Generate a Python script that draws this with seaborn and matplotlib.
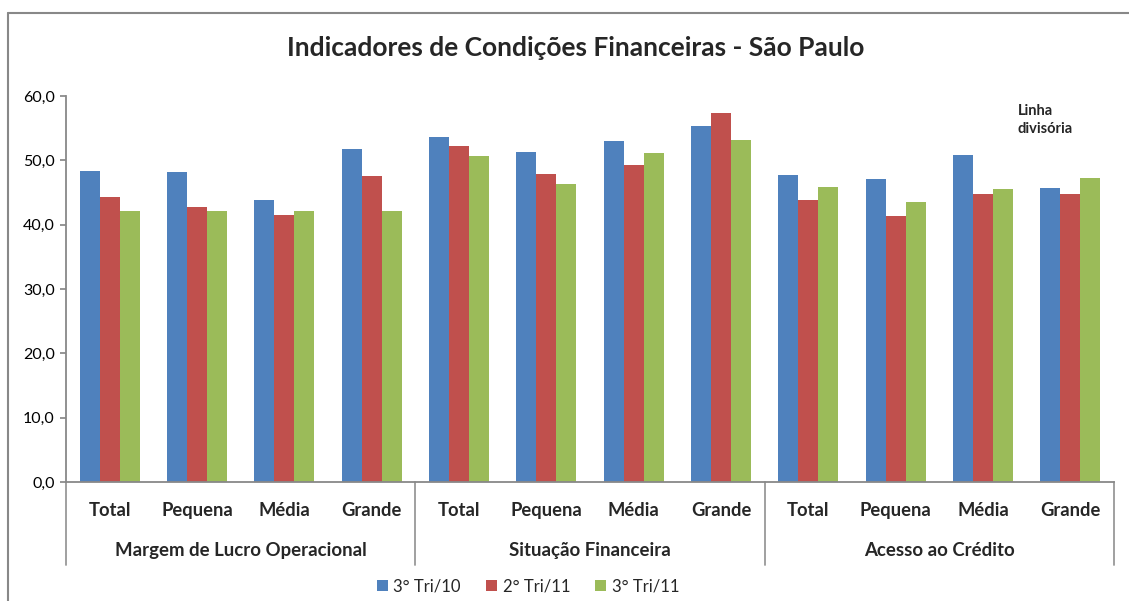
import matplotlib
matplotlib.use("Agg")
import matplotlib.pyplot as plt
import seaborn as sns
import pandas as pd
from matplotlib.lines import Line2D
from matplotlib.patches import Patch

groups = ["Margem de Lucro Operacional", "Situação Financeira", "Acesso ao Crédito"]
sizes = ["Total", "Pequena", "Média", "Grande"]
series = ["3° Tri/10", "2° Tri/11", "3° Tri/11"]
tri10 = [48.4, 48.2, 43.8, 51.8, 53.6, 51.3, 53.0, 55.4, 47.7, 47.1, 50.9, 45.7]
tri11_2 = [44.3, 42.7, 41.5, 47.5, 52.2, 47.9, 49.3, 57.3, 43.8, 41.3, 44.7, 44.7]
tri11_3 = [42.2, 42.2, 42.2, 42.2, 50.6, 46.3, 51.1, 53.2, 45.9, 43.6, 45.6, 47.2]
colors = ["#4F81BD", "#C0504D", "#9BBB59"]

cats = [f"{g}|{s}" for g in groups for s in sizes]
rows = []
for name, vals in zip(series, [tri10, tri11_2, tri11_3]):
    for c, v in zip(cats, vals):
        rows.append({"cat": c, "serie": name, "valor": v})
df = pd.DataFrame(rows)

sns.set_theme(style="white")
plt.rcParams["font.family"] = ["Lato", "DejaVu Sans"]

W, H = 1129, 601
fig = plt.figure(figsize=(W / 100, H / 100), dpi=100)
x0, x1, y0, y1 = 66, 1114, 482, 96
ax = fig.add_axes([x0 / W, 1 - y0 / H, (x1 - x0) / W, (y0 - y1) / H])

sns.barplot(data=df, x="cat", y="valor", hue="serie", order=cats, hue_order=series,
            palette=colors, width=0.69, ax=ax, legend=False, saturation=1,
            edgecolor="none")

ax.set_ylim(0, 60)
ax.set_xlim(-0.5, 11.5)
ax.set_yticks(range(0, 61, 10))
ax.set_yticklabels([f"{v},0" for v in range(0, 61, 10)], fontsize=11.5, color="black")
ax.tick_params(axis="y", length=4, color="#888888", direction="out", left=True, pad=4)
ax.set_xticks([])
ax.set_xlabel("")
ax.set_ylabel("")
for side in ["top", "right"]:
    ax.spines[side].set_visible(False)
for side in ["left", "bottom"]:
    ax.spines[side].set_color("#888888")
    ax.spines[side].set_linewidth(1.3)

# category labels
for i, c in enumerate(cats):
    ax.text(i, -0.073, c.split("|")[1], transform=ax.get_xaxis_transform(),
            ha="center", va="center", fontsize=13.2, fontweight="bold")
for gi, g in enumerate(groups):
    ax.text(gi * 4 + 1.5, -0.178, g, transform=ax.get_xaxis_transform(),
            ha="center", va="center", fontsize=13.4, fontweight="bold")
# separators
for xb in [-0.5, 3.5, 7.5, 11.5]:
    ax.add_line(Line2D([xb, xb], [0, -0.215], transform=ax.get_xaxis_transform(),
                       color="#999999", lw=1.3, clip_on=False))

fig.text(576 / W, 1 - 48 / H, "Indicadores de Condições Financeiras - São Paulo",
         ha="center", va="center", fontsize=19, fontweight="bold")
fig.text(1018 / W, 1 - 120 / H, "Linha\ndivisória", ha="left", va="center",
         fontsize=10.5, fontweight="bold", linespacing=1.45)

handles = [Patch(facecolor=c, edgecolor="none") for c in colors]
fig.legend(handles, series, loc="center", bbox_to_anchor=(528 / W, 1 - 586 / H),
           ncol=3, frameon=False, fontsize=12, handlelength=0.65, handleheight=0.65,
           handletextpad=0.35, columnspacing=1.5)

# chart frame
fig.add_artist(Line2D([7.5 / W, 1.0], [1 - 12.5 / H] * 2, transform=fig.transFigure,
                      color="#888888", lw=1.5))
fig.add_artist(Line2D([7.5 / W] * 2, [0, 1 - 12.5 / H], transform=fig.transFigure,
                      color="#888888", lw=1.5))

fig.savefig("out.png", dpi=100)
